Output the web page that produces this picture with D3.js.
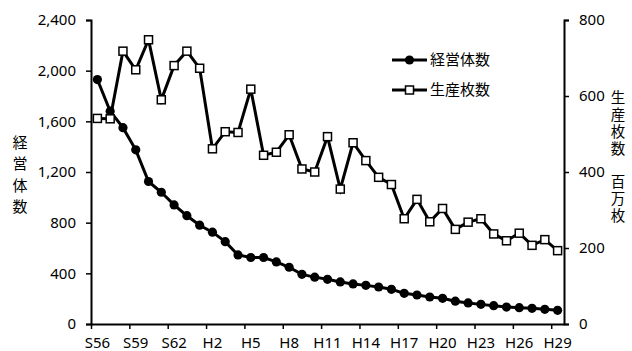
<!DOCTYPE html>
<html>
<head>
<meta charset="utf-8">
<script src="https://cdn.jsdelivr.net/npm/d3@7"></script>
<style>
	body { margin: 0; background: #fff; }
	svg text { fill: #000; }
</style>
</head>
<body>
<svg id="chart" width="632" height="351"></svg>
<script>
// categories: S56..S63, H1..H29
const years = [];
for (let y = 56; y <= 63; y++) years.push('S' + y);
for (let y = 1; y <= 29; y++) years.push('H' + y);

// 経営体数 (left axis)
const farms = [1930, 1680, 1550, 1375, 1125, 1040, 940, 855, 780, 725, 650, 545, 525, 525, 490,
	448, 392, 370, 353, 332, 316, 305, 292, 274, 242, 229, 213, 203, 180, 166, 155, 145, 134,
	129, 124, 116, 108];

// 生産枚数 百万枚 (right axis)
const sheets = [541, 540, 718, 669, 748, 590, 680, 718, 673, 461, 506, 504, 618, 444, 452,
	498, 408, 400, 493, 355, 477, 430, 386, 367, 277, 328, 269, 304, 249, 268, 277, 237, 219,
	239, 207, 222, 193];

const leftTicks = [0, 400, 800, 1200, 1600, 2000, 2400];
const rightTicks = [0, 200, 400, 600, 800];
const labelYears = years.filter((d, i) => i % 3 === 0);

const margin = { top: 20, left: 91, right: 68, bottom: 27 };
const W = 632, H = 351;
const fontNum = '"Noto Sans", sans-serif';
const fontJp = '"Noto Sans CJK JP", sans-serif';

const svg = d3.select('#chart');
const x0 = margin.left, x1 = W - margin.right, y0 = H - margin.bottom, y1 = margin.top;

const x = d3.scaleBand().domain(years).range([x0, x1]).padding(0);
const xIdx = d3.scaleLinear().domain([0, years.length]).range([x0, x1]);
const yL = d3.scaleLinear().domain([0, 2400]).range([y0, y1]);
const yR = d3.scaleLinear().domain([0, 800]).range([y0, y1]);
const cx = (d, i) => x(years[i]) + x.bandwidth() / 2;

// axes
function styleAxis(g) {
	g.select('.domain').attr('stroke', '#000').attr('stroke-width', 2);
	g.selectAll('.tick line').attr('stroke', '#000').attr('stroke-width', 1.5);
	g.selectAll('.tick text').style('font-family', fontNum).style('font-size', '15px');
}

svg.append('g')
	.attr('transform', 'translate(' + x0 + ',0)')
	.call(d3.axisLeft(yL).tickValues(leftTicks).tickFormat(d3.format(',')).tickSizeOuter(0).tickSize(5).tickPadding(10))
	.call(styleAxis);

svg.append('g')
	.attr('transform', 'translate(' + x1 + ',0)')
	.call(d3.axisRight(yR).tickValues(rightTicks).tickSizeOuter(0).tickSize(5).tickPadding(10))
	.call(styleAxis);

// x tick marks at band boundaries every 3 categories
svg.append('g')
	.attr('transform', 'translate(0,' + y0 + ')')
	.call(d3.axisBottom(xIdx).tickValues(d3.range(0, years.length, 3)).tickFormat('').tickSize(5).tickSizeOuter(0))
	.call(styleAxis);

// x labels under the points
svg.append('g')
	.attr('transform', 'translate(0,' + y0 + ')')
	.call(d3.axisBottom(x).tickValues(labelYears).tickSize(0).tickPadding(13))
	.call(g => g.select('.domain').remove())
	.call(styleAxis);

// lines
const lineL = d3.line().x(cx).y(d => yL(d));
const lineR = d3.line().x(cx).y(d => yR(d));

svg.append('path').datum(farms)
	.attr('d', lineL).attr('fill', 'none').attr('stroke', '#000').attr('stroke-width', 3);
svg.append('g').selectAll('circle').data(farms).enter().append('circle')
	.attr('cx', cx).attr('cy', d => yL(d)).attr('r', 4.6).attr('fill', '#000');

svg.append('path').datum(sheets)
	.attr('d', lineR).attr('fill', 'none').attr('stroke', '#000').attr('stroke-width', 3);
const sq = 8;
svg.append('g').selectAll('rect').data(sheets).enter().append('rect')
	.attr('x', (d, i) => cx(d, i) - sq / 2).attr('y', d => yR(d) - sq / 2)
	.attr('width', sq).attr('height', sq)
	.attr('fill', '#fff').attr('stroke', '#000').attr('stroke-width', 1.5);

// legend
const legend = svg.append('g');
[{ name: '経営体数', y: 60, type: 'circle' }, { name: '生産枚数', y: 90, type: 'square' }].forEach(item => {
	legend.append('line').attr('x1', 392).attr('x2', 427).attr('y1', item.y).attr('y2', item.y)
		.attr('stroke', '#000').attr('stroke-width', 3);
	if (item.type === 'circle') {
		legend.append('circle').attr('cx', 409.5).attr('cy', item.y).attr('r', 4.6).attr('fill', '#000');
	} else {
		legend.append('rect').attr('x', 409.5 - sq / 2).attr('y', item.y - sq / 2).attr('width', sq).attr('height', sq)
			.attr('fill', '#fff').attr('stroke', '#000').attr('stroke-width', 1.5);
	}
	legend.append('text').attr('x', 430).attr('y', item.y).attr('dy', '0.35em')
		.style('font-family', fontJp).style('font-size', '15px').text(item.name);
});

// axis titles, written vertically
function verticalTitle(txt, xc, yTop, size, spacing) {
	svg.append('text')
		.attr('x', xc).attr('y', yTop)
		.style('writing-mode', 'vertical-rl')
		.style('text-orientation', 'upright')
		.style('letter-spacing', spacing + 'px')
		.style('font-family', fontJp).style('font-size', size + 'px')
		.text(txt);
}
verticalTitle('経営体数', 20, 134.5, 15, 6.5);
verticalTitle('生産枚数　百万枚', 618, 90.7, 14.5, 2.3);
</script>
</body>
</html>
